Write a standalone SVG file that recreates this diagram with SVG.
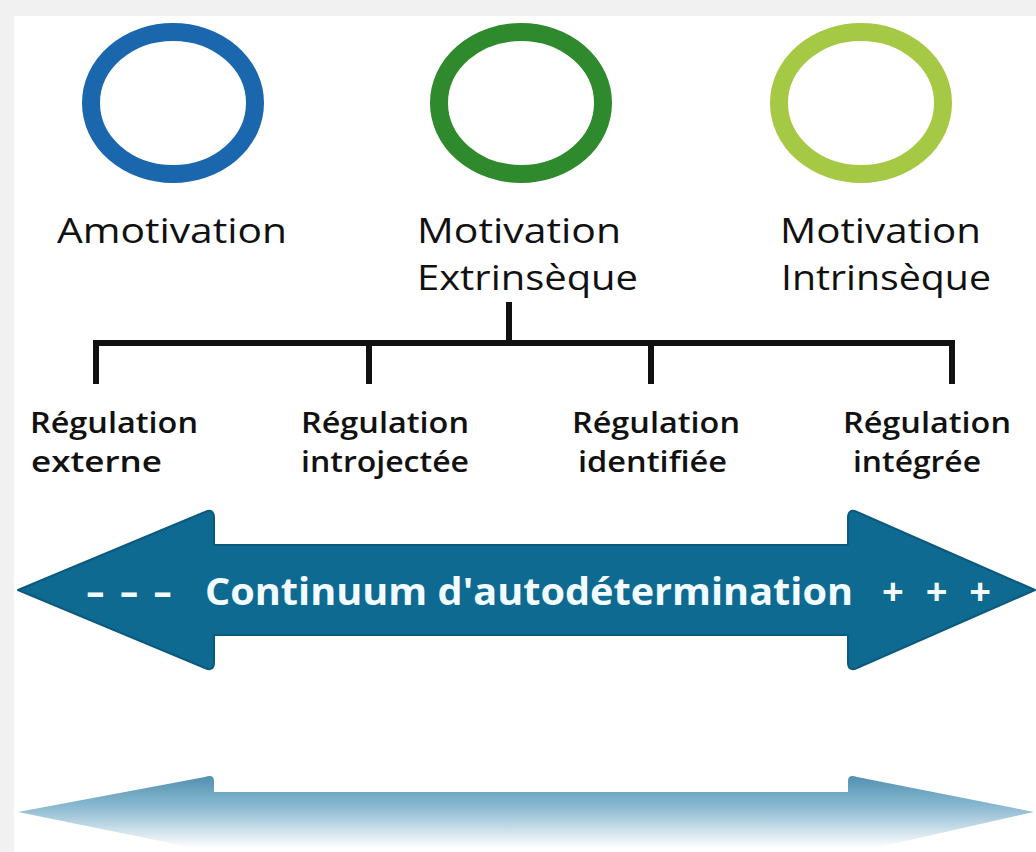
<svg xmlns="http://www.w3.org/2000/svg" width="1036" height="852" viewBox="0 0 1036 852">
<defs>
<linearGradient id="refl" x1="0" y1="775" x2="0" y2="848" gradientUnits="userSpaceOnUse">
<stop offset="0" stop-color="#4f8fb0"/>
<stop offset="0.45" stop-color="#8dbbd2"/>
<stop offset="1" stop-color="#ffffff"/>
</linearGradient>
</defs>
<style>
.lbl{font-family:"Open Sans","Noto Sans","Liberation Sans",sans-serif;fill:#111}
.big{font-size:34px}
.small{font-size:28px;font-weight:600}
.ring{fill:none;stroke-width:18}
.tree{stroke:#111;stroke-width:6;fill:none;stroke-linecap:square}
.arrowtxt{font-family:"Open Sans","Noto Sans","Liberation Sans",sans-serif;font-weight:bold;fill:#f2fbff;font-size:38px}
</style>
<rect x="0" y="0" width="1036" height="852" fill="#f1f1f1"/>
<rect x="14" y="16" width="1022" height="836" fill="#ffffff"/>

<g id="amotivation">
<ellipse class="ring" cx="173" cy="103" rx="82" ry="71" stroke="#1a67ae"/>
<text class="lbl big" x="57" y="243" textLength="230" lengthAdjust="spacingAndGlyphs">Amotivation</text>
</g>
<g id="motivation-extrinseque">
<ellipse class="ring" cx="521" cy="103" rx="82" ry="71" stroke="#2e8a2c"/>
<text class="lbl big" x="417" y="243" textLength="204" lengthAdjust="spacingAndGlyphs">Motivation</text>
<text class="lbl big" x="417" y="290" textLength="221" lengthAdjust="spacingAndGlyphs">Extrinsèque</text>
</g>
<g id="motivation-intrinseque">
<ellipse class="ring" cx="861" cy="103" rx="82" ry="71" stroke="#a5c944"/>
<text class="lbl big" x="780" y="243" textLength="201" lengthAdjust="spacingAndGlyphs">Motivation</text>
<text class="lbl big" x="781" y="290" textLength="210" lengthAdjust="spacingAndGlyphs">Intrinsèque</text>
</g>

<g id="connectors">
<path class="tree" d="M509 305 V343 M96 343 H952 M96 343 V381 M369 343 V381 M651 343 V381 M952 343 V381"/>
</g>

<g id="regulation-externe">
<text class="lbl small" x="30" y="433" textLength="168" lengthAdjust="spacingAndGlyphs">Régulation</text>
<text class="lbl small" x="31" y="472" textLength="131" lengthAdjust="spacingAndGlyphs">externe</text>
</g>
<g id="regulation-introjectee">
<text class="lbl small" x="301" y="433" textLength="168" lengthAdjust="spacingAndGlyphs">Régulation</text>
<text class="lbl small" x="301" y="472" textLength="168" lengthAdjust="spacingAndGlyphs">introjectée</text>
</g>
<g id="regulation-identifiee">
<text class="lbl small" x="572" y="433" textLength="168" lengthAdjust="spacingAndGlyphs">Régulation</text>
<text class="lbl small" x="578" y="472" textLength="149" lengthAdjust="spacingAndGlyphs">identifiée</text>
</g>
<g id="regulation-integree">
<text class="lbl small" x="843" y="433" textLength="168" lengthAdjust="spacingAndGlyphs">Régulation</text>
<text class="lbl small" x="853" y="472" textLength="128" lengthAdjust="spacingAndGlyphs">intégrée</text>
</g>

<g id="continuum">
<path d="M18 590 L205 512 Q214 508 214 518 L214 545 L848 545 L848 518 Q848 508 857 512 L1035 590 L857 668 Q848 672 848 662 L848 635 L214 635 L214 662 Q214 672 205 668 Z" fill="#0f6a92" stroke="#0b5a7e" stroke-width="2" stroke-linejoin="round"/>
<text class="arrowtxt" x="86" y="605" textLength="86" lengthAdjust="spacingAndGlyphs">- - -</text>
<text class="arrowtxt" x="205" y="605" textLength="648" lengthAdjust="spacingAndGlyphs">Continuum d'autodétermination</text>
<text class="arrowtxt" x="882" y="605" textLength="109" lengthAdjust="spacing">+ + +</text>
</g>

<g id="reflection">
<path d="M18 812 L205 777 Q214 774 214 781 L214 792 L848 792 L848 781 Q848 774 857 777 L1034 812 L857 852 L214 852 L18 812 Z" fill="url(#refl)"/>
</g>
</svg>
